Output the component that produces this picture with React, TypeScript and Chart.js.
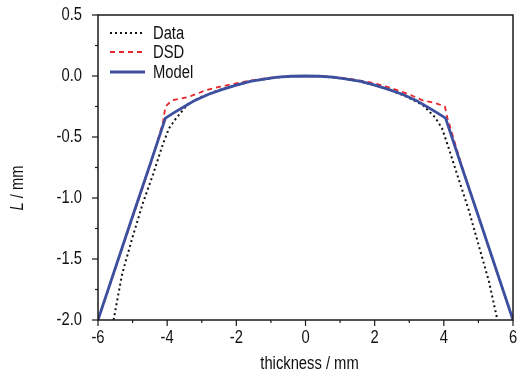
import React, { useEffect, useRef } from "react";
import { Chart, registerables } from "chart.js";

Chart.register(...registerables);

const xTickValues = [-6, -4, -2, 0, 2, 4, 6];
const yTickValues = [-2.0, -1.5, -1.0, -0.5, 0.0, 0.5];
const legendLabels = ["Data", "DSD", "Model"];

const dataX = [-5.55, -5.3, -5.0, -4.7, -4.4, -4.15, -3.95, -3.75, -3.4, -3.0, -2.5, -2.0, -1.5, -1.0, -0.5, 0, 0.5, 1.0, 1.5, 2.0, 2.5, 3.0, 3.4, 3.75, 3.95, 4.15, 4.4, 4.7, 5.0, 5.3, 5.55];
const dataY = [-2.0, -1.62, -1.32, -1.04, -0.8, -0.58, -0.43, -0.35, -0.23, -0.17, -0.115, -0.075, -0.04, -0.018, -0.004, 0, -0.004, -0.018, -0.04, -0.075, -0.12, -0.18, -0.24, -0.34, -0.43, -0.6, -0.82, -1.08, -1.38, -1.68, -2.0];

const dsdX = [-6, -5.5, -5, -4.5, -4.12, -4.05, -3.86, -3.6, -3.36, -2.87, -2.5, -2, -1.5, -1, -0.5, 0, 0.5, 1, 1.5, 2, 2.5, 3.07, 3.39, 3.74, 4.03, 4.1, 4.5, 5, 5.5, 6];
const dsdY = [-2, -1.58, -1.16, -0.74, -0.38, -0.25, -0.2, -0.185, -0.17, -0.115, -0.09, -0.06, -0.033, -0.013, -0.002, 0, -0.002, -0.013, -0.033, -0.06, -0.1, -0.16, -0.2, -0.22, -0.25, -0.34, -0.72, -1.15, -1.58, -2];

const modelX = [-6, -5, -4.5, -4.05, -3.8, -3.5, -3.2, -2.8, -2.4, -2, -1.6, -1.2, -0.8, -0.4, 0, 0.4, 0.8, 1.2, 1.6, 2, 2.4, 2.8, 3.2, 3.5, 3.8, 4.05, 4.5, 5, 6];
const modelY = [-2, -1.15, -0.73, -0.345, -0.3, -0.25, -0.2, -0.15, -0.11, -0.075, -0.045, -0.025, -0.01, -0.002, 0, -0.002, -0.01, -0.025, -0.045, -0.075, -0.11, -0.15, -0.2, -0.25, -0.3, -0.345, -0.73, -1.15, -2];

const FONT = "'Liberation Sans', Arial, sans-serif";
const NARROW = 0.82;
const TEXT_COLOR = "#111111";
const AXIS_COLOR = "#1a1a1a";
const DATA_COLOR = "#111111";
const DSD_COLOR = "#e8252a";
const MODEL_COLOR = "#3d4f9f";

const toPoints = (xs: number[], ys: number[]) => xs.map((x, i) => ({ x, y: ys[i] }));

function narrowText(ctx: any, text: string, x: number, y: number, align: string, style = "") {
  ctx.save();
  ctx.translate(x, y);
  ctx.scale(NARROW, 1);
  ctx.font = `${style}18px ${FONT}`;
  ctx.fillStyle = TEXT_COLOR;
  ctx.textAlign = align;
  ctx.textBaseline = "middle";
  ctx.fillText(text, 0, 0);
  ctx.restore();
}

const decorPlugin = {
  id: "decor",
  afterDraw(chart: any) {
    const ctx = chart.ctx;
    const { left, right, top, bottom } = chart.chartArea;
    const xs = chart.scales.x;
    const ys = chart.scales.y;
    ctx.save();
    ctx.strokeStyle = AXIS_COLOR;
    ctx.lineWidth = 1.5;
    ctx.strokeRect(left, top, right - left, bottom - top);
    ctx.lineWidth = 1.2;
    for (let v = -6; v <= 6; v += 1) {
      const px = xs.getPixelForValue(v);
      const len = v % 2 === 0 ? 6 : 3;
      ctx.beginPath();
      ctx.moveTo(px, bottom);
      ctx.lineTo(px, bottom + len);
      ctx.stroke();
    }
    for (let k = 0; k <= 10; k++) {
      const v = -2 + k * 0.25;
      const py = ys.getPixelForValue(v);
      const len = k % 2 === 0 ? 6 : 3;
      ctx.beginPath();
      ctx.moveTo(left, py);
      ctx.lineTo(left - len, py);
      ctx.stroke();
    }
    ctx.restore();

    xTickValues.forEach((v) => {
      narrowText(ctx, String(v), xs.getPixelForValue(v), bottom + 18, "center");
    });
    yTickValues.forEach((v) => {
      narrowText(ctx, v.toFixed(1), left - 16, ys.getPixelForValue(v), "right");
    });
    narrowText(ctx, "thickness / mm", (left + right) / 2 + 4, 364, "center");

    ctx.save();
    ctx.translate(18, 188);
    ctx.rotate(-Math.PI / 2);
    ctx.scale(NARROW, 1);
    ctx.fillStyle = TEXT_COLOR;
    ctx.textBaseline = "middle";
    ctx.textAlign = "left";
    ctx.font = `italic 18px ${FONT}`;
    const lW = ctx.measureText("L").width;
    ctx.font = `18px ${FONT}`;
    const restW = ctx.measureText(" / mm").width;
    const start = -(lW + restW) / 2;
    ctx.font = `italic 18px ${FONT}`;
    ctx.fillText("L", start, 0);
    ctx.font = `18px ${FONT}`;
    ctx.fillText(" / mm", start + lW, 0);
    ctx.restore();

    ctx.save();
    const styles = [
      { color: DATA_COLOR, dash: [2, 3], width: 2 },
      { color: DSD_COLOR, dash: [5, 4], width: 1.8 },
      { color: MODEL_COLOR, dash: [], width: 2.8 },
    ];
    const rowsY = [33, 52, 72];
    legendLabels.forEach((lab, i) => {
      const s = styles[i];
      ctx.strokeStyle = s.color;
      ctx.lineWidth = s.width;
      ctx.setLineDash(s.dash);
      ctx.beginPath();
      ctx.moveTo(110, rowsY[i]);
      ctx.lineTo(145, rowsY[i]);
      ctx.stroke();
      ctx.setLineDash([]);
      narrowText(ctx, lab, 153, rowsY[i] + 1, "left");
    });
    ctx.restore();
  },
};

export default function App() {
  const ref = useRef<HTMLCanvasElement | null>(null);
  useEffect(() => {
    if (!ref.current) return;
    const chart = new Chart(ref.current, {
      type: "scatter",
      data: {
        datasets: [
          {
            label: "Model",
            data: toPoints(modelX, modelY),
            showLine: true,
            borderColor: MODEL_COLOR,
            borderWidth: 2.8,
            pointRadius: 0,
            tension: 0,
          },
          {
            label: "DSD",
            data: toPoints(dsdX, dsdY),
            showLine: true,
            borderColor: DSD_COLOR,
            borderWidth: 1.8,
            borderDash: [5, 4],
            pointRadius: 0,
            tension: 0,
          },
          {
            label: "Data",
            data: toPoints(dataX, dataY),
            showLine: true,
            borderColor: DATA_COLOR,
            borderWidth: 2,
            borderDash: [2, 3],
            pointRadius: 0,
            tension: 0,
          },
        ],
      },
      options: {
        responsive: false,
        animation: false,
        devicePixelRatio: 1,
        layout: { padding: { left: 0, top: 15, right: 5, bottom: 0 } },
        plugins: { legend: { display: false }, tooltip: { enabled: false } },
        scales: {
          x: {
            type: "linear",
            min: -6,
            max: 6,
            afterFit: (scale: any) => {
              scale.height = 53;
            },
            grid: { display: false },
            border: { display: false },
            ticks: { display: false },
          },
          y: {
            type: "linear",
            min: -2,
            max: 0.5,
            afterFit: (scale: any) => {
              scale.width = 98;
            },
            grid: { display: false },
            border: { display: false },
            ticks: { display: false },
          },
        },
      },
      plugins: [decorPlugin],
    } as any);
    return () => chart.destroy();
  }, []);
  return (
    <div style={{ position: "absolute", left: 0, top: 0, width: 518, height: 373, background: "#fff" }}>
      <canvas ref={ref} width={518} height={373} />
    </div>
  );
}
